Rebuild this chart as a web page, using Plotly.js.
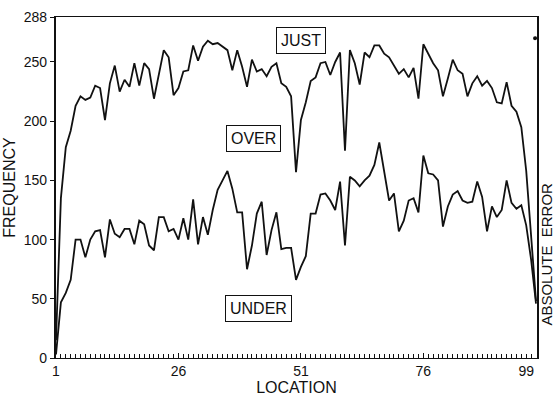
<!DOCTYPE html>
<html>
<head>
<meta charset="utf-8">
<script src="https://cdn.plot.ly/plotly-3.0.1.min.js"></script>
<style>html,body{margin:0;padding:0;background:#fff;}#chart{width:555px;height:405px;}</style>
</head>
<body>
<div id="chart"></div>
<script>
const locations = [1,2,3,4,5,6,7,8,9,10,11,12,13,14,15,16,17,18,19,20,21,22,23,24,25,26,27,28,29,30,31,32,33,34,35,36,37,38,39,40,41,42,43,44,45,46,47,48,49,50,51,52,53,54,55,56,57,58,59,60,61,62,63,64,65,66,67,68,69,70,71,72,73,74,75,76,77,78,79,80,81,82,83,84,85,86,87,88,89,90,91,92,93,94,95,96,97,98,99];
const overJust = [15,135,178,192,213,221,218,220,230,228,201,232,247,225,235,229,249,230,249,244,219,240,260,254,222,228,242,243,264,251,263,268,265,266,263,260,243,260,246,229,252,242,244,238,246,249,232,229,221,157,201,216,234,237,249,250,239,250,258,175,260,249,231,258,254,264,264,257,254,247,240,244,237,245,219,265,257,249,243,221,236,252,243,240,221,232,238,230,234,228,216,215,233,213,208,195,158,105,48];
const under = [3,47,55,66,100,100,85,100,107,108,85,117,105,102,109,109,96,116,113,95,91,119,119,107,109,100,118,100,134,96,119,104,125,142,150,158,143,123,123,75,95,122,132,87,108,123,92,93,93,66,77,86,122,122,138,139,133,125,149,95,153,150,145,150,154,163,182,156,133,139,107,116,133,135,123,171,156,155,150,111,128,138,141,133,131,132,149,136,107,128,119,125,150,131,126,129,112,83,46];
const errorDotX = [98.8];
const errorDotY = [270];
const xTickVals = [1,26,51,76,99];
const xTickText = ['1','26','51','76','99\u00a0\u00a0\u00a0\u00a0\u00a0'];
const yTickVals = [0,50,100,150,200,250,288];
const boxLabels = ['JUST','OVER','UNDER'];

const ink = '#111';
const traces = [
  {x: locations, y: overJust, type:'scatter', mode:'lines', line:{color:ink, width:1.8}, hoverinfo:'skip'},
  {x: locations, y: under, type:'scatter', mode:'lines', line:{color:ink, width:1.8}, hoverinfo:'skip'},
  {x: errorDotX, y: errorDotY, type:'scatter', mode:'markers', marker:{color:ink, size:4}, hoverinfo:'skip'}
];

const boxPos = [[0.509,0.930],[0.411,0.644],[0.422,0.145]];
const annotations = boxLabels.map((t,i)=>({
  text:t, xref:'paper', yref:'paper', x:boxPos[i][0], y:boxPos[i][1],
  xanchor:'center', yanchor:'middle', showarrow:false,
  font:{size:16, color:ink}, bordercolor:ink, borderwidth:1, borderpad:4, bgcolor:'rgba(0,0,0,0)'
}));
annotations.push({
  text:'ABSOLUTE&nbsp;&nbsp;ERROR', xref:'paper', yref:'paper', x:1.02, y:0.305,
  xanchor:'center', yanchor:'middle', textangle:-90, showarrow:false,
  font:{size:15, color:ink}
});

const layout = {
  width:555, height:405,
  margin:{l:56, r:18, t:17, b:47},
  paper_bgcolor:'#fff', plot_bgcolor:'#fff',
  showlegend:false,
  font:{family:'"Liberation Sans", Arial, sans-serif', size:14, color:ink},
  xaxis:{
    range:[1,99.2], tickmode:'array', tickvals:xTickVals, ticktext:xTickText,
    ticks:'inside', ticklen:5, tickwidth:1, tickcolor:ink,
    showline:true, linecolor:ink, linewidth:1, mirror:true,
    showgrid:false, zeroline:false, automargin:false,
    ticklabeloverflow:'allow',
    tickfont:{size:14, color:ink},
    minor:{tick0:1, dtick:1, ticks:'inside', ticklen:4, tickwidth:1, tickcolor:ink, showgrid:false},
    title:{text:'LOCATION', font:{size:16, color:ink}, standoff:2}
  },
  yaxis:{
    range:[0,288], tickmode:'array', tickvals:yTickVals,
    ticks:'outside', ticklen:4, tickwidth:1, tickcolor:ink,
    showline:true, linecolor:ink, linewidth:2.2, mirror:true,
    showgrid:false, zeroline:false, automargin:false,
    tickfont:{size:14, color:ink},
    title:{text:'FREQUENCY', font:{size:16, color:ink}, standoff:4}
  },
  annotations:annotations
};

Plotly.newPlot('chart', traces, layout, {staticPlot:true, displayModeBar:false});
</script>
</body>
</html>
